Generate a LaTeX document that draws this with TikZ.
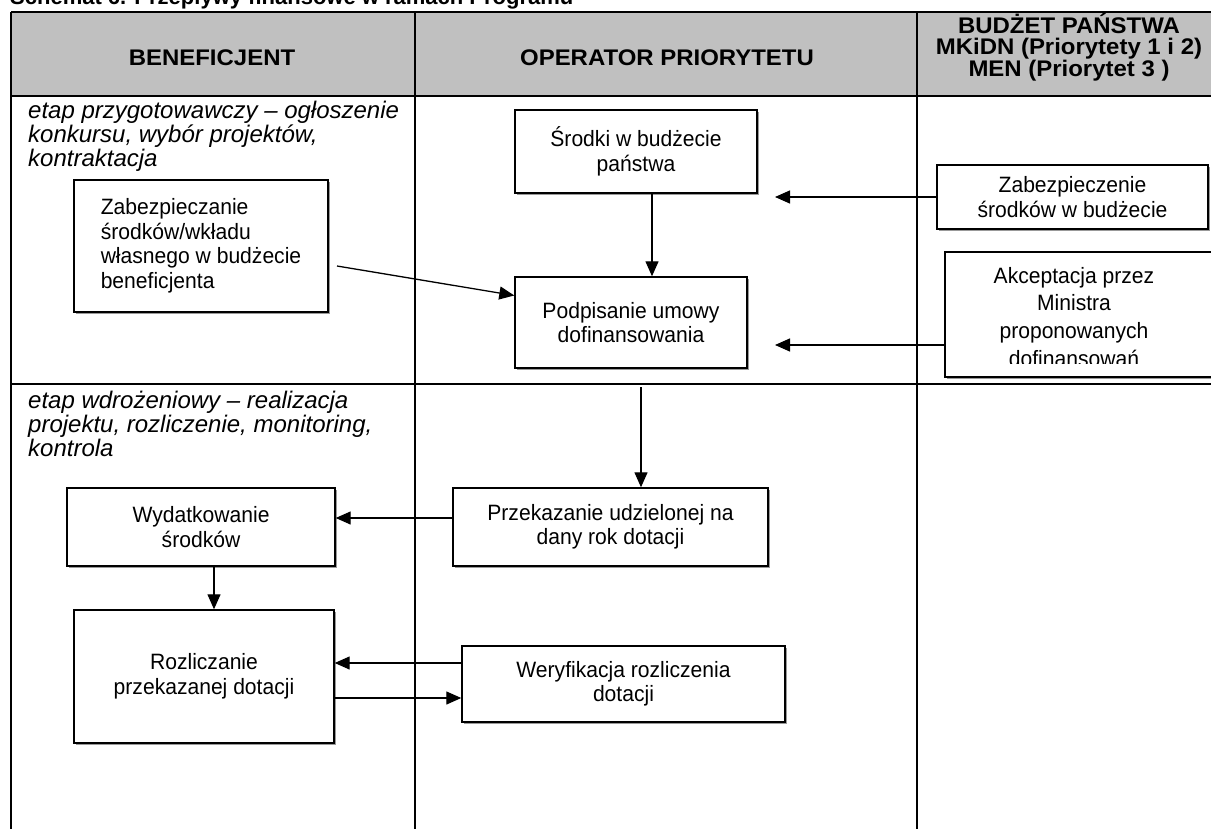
\documentclass[tikz,border=0pt]{standalone}
\usepackage{fontspec}
\setmainfont{Liberation Sans}
\newfontfamily\bodyfont[FakeStretch=0.95]{Liberation Sans}
\newfontfamily\hdfont[FakeStretch=1.06]{Liberation Sans}
\usetikzlibrary{arrows.meta,shadows}
\definecolor{hdr}{RGB}{192,192,192}
\begin{document}
\begin{tikzpicture}[x=1pt,y=-1pt,
  box/.style={draw=black, line width=1.4pt, fill=white,
    drop shadow={shadow xshift=2pt,shadow yshift=-2pt,fill=black!40,opacity=1},
    inner sep=0pt, font=\bodyfont\fontsize{22.2}{24.5}\selectfont, align=center},
  tx/.style={font=\bodyfont\fontsize{22.2}{27.7}\selectfont, align=center, inner sep=0pt},
  hd/.style={font=\hdfont\fontsize{22.6}{21}\selectfont\bfseries, align=center, inner sep=0pt},
  lbl/.style={font=\fontsize{24}{24}\selectfont\itshape, align=left, inner sep=0pt, anchor=north west},
  gridline/.style={line width=1.6pt},
  arr/.style={line width=1.3pt, -{Triangle[length=15pt,width=13pt]}}]
\useasboundingbox (0,0) rectangle (1211,829);
\clip (0,0) rectangle (1211,829);
% title (cut off at the top, as in the reference)
\node[font=\fontsize{22}{24}\selectfont\bfseries, anchor=base west, inner sep=0pt] (title) at (10,5) {Schemat 6. Przepływy finansowe w ramach Programu};
% table
\fill[hdr] (11,12) rectangle (1212,96);
\draw[gridline] (11,12) -- (1212,12);
\draw[gridline] (11,96) -- (1212,96);
\draw[gridline] (11,384) -- (1212,384);
\draw[gridline] (11,12) -- (11,830);
\draw[gridline] (415,12) -- (415,830);
\draw[gridline] (917,12) -- (917,830);
% headers
\node[hd] (h1) at (212,58) {BENEFICJENT};
\node[hd] (h2) at (667,58) {OPERATOR PRIORYTETU};
\node[hd] (h3) at (1069,47.5) {BUDŻET PAŃSTWA\\MKiDN (Priorytety 1 i 2)\\MEN (Priorytet 3 )};
% row labels
\node[lbl] (r1) at (28,101) {etap przygotowawczy – ogłoszenie\\konkursu, wybór projektów,\\kontraktacja};
\node[lbl] (r2) at (28,391) {etap wdrożeniowy – realizacja\\projektu, rozliczenie, monitoring,\\kontrola};
% boxes
\node[box, minimum width=242pt, minimum height=83pt] (srodki) at (636,151.5) {Środki w budżecie\\państwa};
\node[box, minimum width=232pt, minimum height=91pt] (podp) at (631,322.5) {Podpisanie umowy\\dofinansowania};
\node[box, minimum width=271pt, minimum height=64pt] (zab2) at (1072.5,197) {Zabezpieczenie\\środków w budżecie};
\node[box, minimum width=275pt, minimum height=125pt] (akc) at (1082.5,314.5) {};
\begin{scope}
  \clip (945,252) rectangle (1215,363);
  \node[tx, anchor=north] (akct) at (1074,267) {Akceptacja przez\\Ministra\\proponowanych\\dofinansowań};
\end{scope}
\node[box, align=left, minimum width=254pt, minimum height=132pt] (zab1) at (201,246) {Zabezpieczanie\\środków/wkładu\\własnego w budżecie\\beneficjenta};
\node[box, minimum width=315pt, minimum height=78pt] (przek) at (610.5,527) {Przekazanie udzielonej na\\dany rok dotacji};
\node[box, minimum width=268pt, minimum height=78pt] (wyd) at (201,527) {Wydatkowanie\\środków};
\node[box, minimum width=260pt, minimum height=133pt] (rozl) at (204,676.5) {Rozliczanie\\przekazanej dotacji};
\node[box, minimum width=323pt, minimum height=76pt] (wer) at (623.5,684) {Weryfikacja rozliczenia\\dotacji};
% connectors
\coordinate (xa) at (652,0);
\draw[arr] (srodki.south -| xa) -- (podp.north -| xa);
\coordinate (e1) at (775,197);
\draw[arr] (zab2.west) -- (e1);
\coordinate (e2) at (775,345);
\draw[arr] (akc.west |- e2) -- (e2);
\coordinate (s1) at (337,266);
\draw[arr] (s1) -- ([yshift=27pt]podp.west);
\coordinate (c1) at (641,387);
\draw[arr] (c1) -- (przek.north -| c1);
\coordinate (ya) at (0,518);
\draw[arr] (przek.west |- ya) -- (wyd.east |- ya);
\coordinate (xb) at (214,0);
\draw[arr] (wyd.south -| xb) -- (rozl.north -| xb);
\coordinate (yb) at (0,663);
\coordinate (yc) at (0,698);
\draw[arr] (wer.west |- yb) -- (rozl.east |- yb);
\draw[arr] (rozl.east |- yc) -- (wer.west |- yc);
\end{tikzpicture}
\end{document}
